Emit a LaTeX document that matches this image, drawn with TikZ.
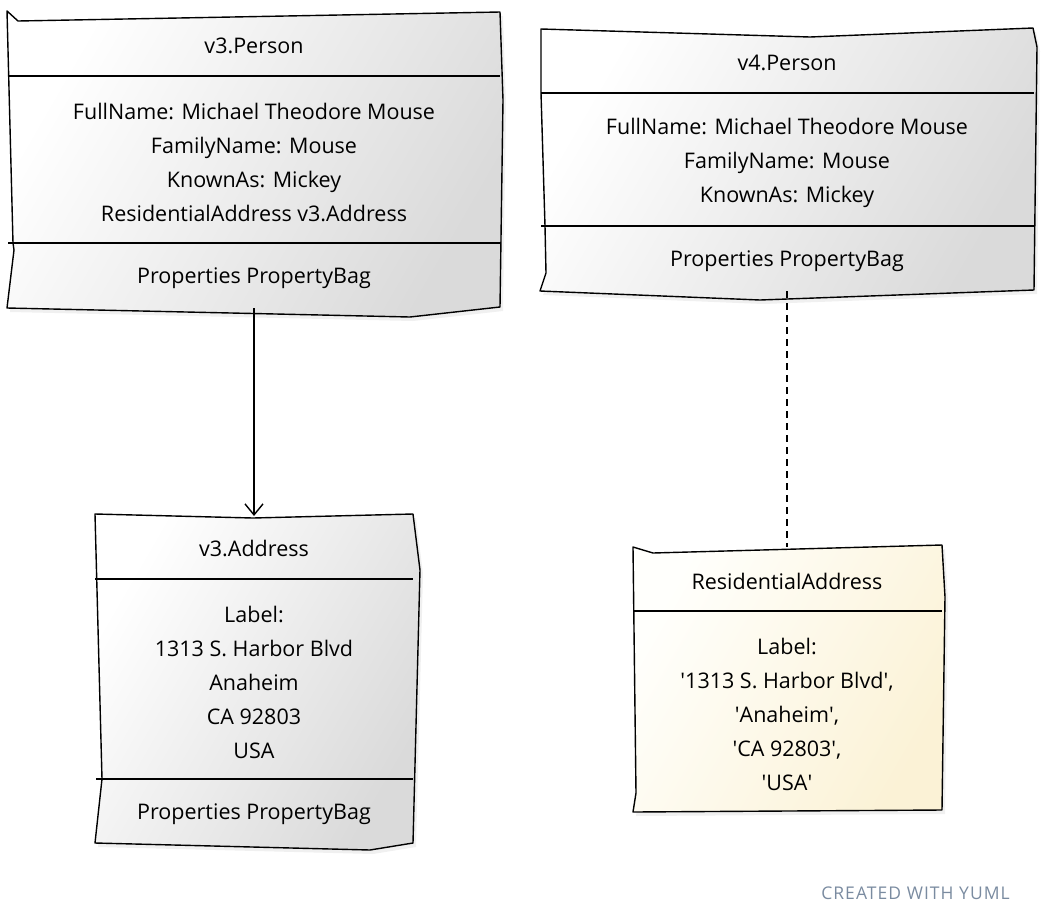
\documentclass[tikz,border=0pt]{standalone}
\usepackage{fontspec}
\setmainfont{Open Sans}
\newfontfamily\wmfont{Open Sans}[LetterSpace=6]
\usetikzlibrary{arrows.meta,shadows}
\newcommand\sq{\textquotesingle}
\definecolor{gA}{HTML}{FFFFFF}
\definecolor{gB}{HTML}{DADADA}
\definecolor{nA}{HTML}{FFFFFC}
\definecolor{nB}{HTML}{FBF2D6}
\definecolor{wm}{HTML}{7A8BA0}
\tikzset{
  boxline/.style={draw=black, line width=1.4pt, line join=round},
  graybox/.style={boxline, left color=gA, right color=gB, shading angle=60,
     drop shadow={opacity=0.12, shadow xshift=3pt, shadow yshift=-4pt}},
  notebox/.style={boxline, left color=nA, right color=nB, shading angle=60,
     drop shadow={opacity=0.12, shadow xshift=3pt, shadow yshift=-4pt}},
  sep/.style={line width=1.4pt},
  txt/.style={font=\fontsize{21.5}{34}\selectfont, align=center, inner sep=0pt},
  frame/.style={inner sep=0pt, outer sep=0pt, draw=none},
  conn/.style={line width=1.4pt},
}
\begin{document}
\begin{tikzpicture}[x=1pt,y=-1pt]
\useasboundingbox (0,0) rectangle (1042,922);
% --- v3.Person
\path[graybox] (7,11) -- (18,21) -- (500,12) -- (503,100) -- (500,307) -- (410,317) -- (7,308) -- (14,250) -- (13,243) -- cycle;
\draw[sep] (8,76) -- (500,76);
\draw[sep] (8,243) -- (500,243);
\node[frame, minimum width=492pt, minimum height=296pt] (v3p) at (254,160) {};
\node[txt] (v3pt) at (254,46) {v3.Person};
\node[txt] (v3pa) at (254,162) {FullName: Michael Theodore Mouse\\FamilyName: Mouse\\KnownAs: Mickey\\ResidentialAddress v3.Address};
\node[txt] (v3pm) at (254,278) {Properties PropertyBag};
% --- v4.Person
\path[graybox] (541,29) -- (810,37) -- (1033,28) -- (1037,47) -- (1034,290) -- (760,300) -- (540,291) -- (546,273) -- (545,226) -- (541,93) -- cycle;
\draw[sep] (541,93) -- (1034,93);
\draw[sep] (541,226) -- (1034,226);
\node[frame, minimum width=493pt, minimum height=262pt] (v4p) at (787,160) {};
\node[txt] (v4pt) at (787,63) {v4.Person};
\node[txt] (v4pa) at (787,163) {FullName: Michael Theodore Mouse\\FamilyName: Mouse\\KnownAs: Mickey};
\node[txt] (v4pm) at (787,261) {Properties PropertyBag};
% --- v3.Address
\path[graybox] (95,514) -- (253,518) -- (413,514) -- (420,570) -- (413,843) -- (370,850) -- (95,843) -- (102,779) -- cycle;
\draw[sep] (95,579) -- (413,579);
\draw[sep] (96,779) -- (413,779);
\node[frame, minimum width=318pt, minimum height=329pt] (v3a) at (254,678.5) {};
\node[txt] (v3at) at (254,548) {v3.Address};
\node[txt] (v3aa) at (254,682) {Label:\\1313 S. Harbor Blvd\\Anaheim\\CA 92803\\USA};
\node[txt] (v3am) at (254,814) {Properties PropertyBag};
% --- ResidentialAddress note
\path[notebox] (633,547) -- (653,553) -- (942,545) -- (945,597) -- (942,810) -- (633,812) -- (636,793) -- cycle;
\draw[sep] (634,611) -- (942,611);
\node[frame, minimum width=309pt, minimum height=264pt] (ra) at (787,679) {};
\node[txt] (rat) at (787,581) {ResidentialAddress};
\node[txt] (raa) at (787,714) {Label:\\\sq1313 S. Harbor Blvd\sq,\\\sq Anaheim\sq,\\\sq CA 92803\sq,\\\sq USA\sq};
% --- connectors
\draw[conn, -{Straight Barb[length=11pt,width=18pt,line width=1.4pt]}] (v3p.south) -- ([yshift=-2pt]v3a.north);
\draw[conn, dashed, dash pattern=on 7pt off 5pt] (v4p.south) -- (ra.north);
% --- watermark
\node[font=\wmfont\fontsize{17.5}{19}\selectfont, text=wm, anchor=east, inner sep=0pt] (wmk) at (1010,893) {CREATED WITH YUML};
\end{tikzpicture}
\end{document}
